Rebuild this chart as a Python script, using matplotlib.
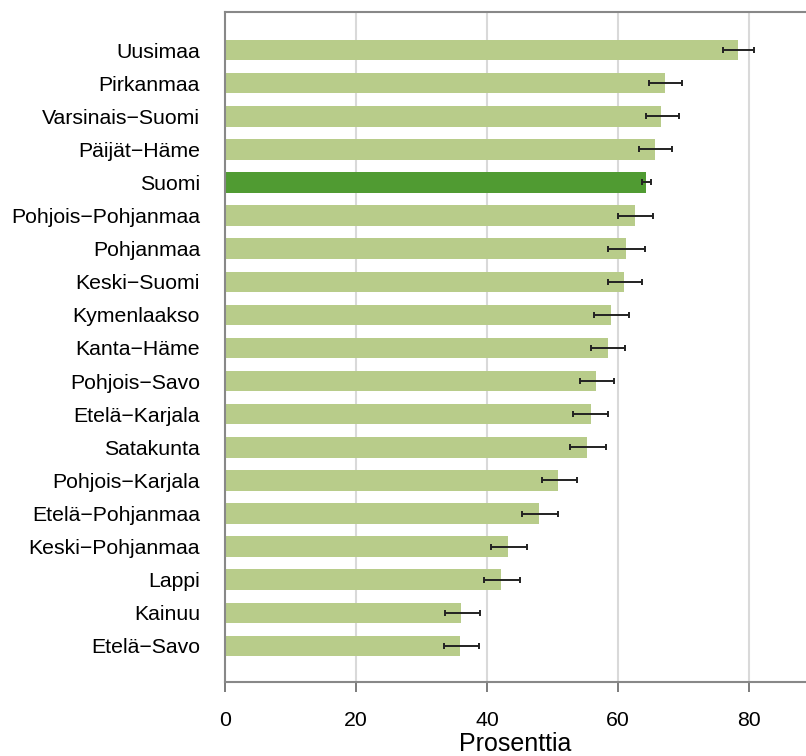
import matplotlib
matplotlib.use("Agg")
import matplotlib.pyplot as plt

plt.rcParams["font.family"] = ["Liberation Sans", "DejaVu Sans"]

# Regions from top to bottom, share (%) with 95% interval limits
regions = ["Uusimaa", "Pirkanmaa", "Varsinais−Suomi", "Päijät−Häme", "Suomi",
           "Pohjois−Pohjanmaa", "Pohjanmaa", "Keski−Suomi", "Kymenlaakso",
           "Kanta−Häme", "Pohjois−Savo", "Etelä−Karjala", "Satakunta",
           "Pohjois−Karjala", "Etelä−Pohjanmaa", "Keski−Pohjanmaa", "Lappi",
           "Kainuu", "Etelä−Savo"]
values = [78.3, 67.1, 66.6, 65.6, 64.2, 62.6, 61.2, 60.9, 58.9, 58.4,
          56.7, 55.8, 55.2, 50.9, 48.0, 43.2, 42.1, 36.1, 35.9]
lower = [76.1, 64.7, 64.2, 63.2, 63.7, 60.0, 58.5, 58.4, 56.3, 55.8,
         54.2, 53.2, 52.6, 48.4, 45.4, 40.6, 39.5, 33.6, 33.4]
upper = [80.7, 69.7, 69.3, 68.2, 65.0, 65.3, 64.1, 63.7, 61.6, 61.0,
         59.4, 58.5, 58.2, 53.7, 50.8, 46.1, 45.0, 38.9, 38.7]
xticks = [0, 20, 40, 60, 80]

n = len(regions)
pos = [n - 1 - i for i in range(n)]
colors = ["#509b32" if r == "Suomi" else "#b8cc8a" for r in regions]
xerr = [[v - lo for v, lo in zip(values, lower)],
        [hi - v for v, hi in zip(values, upper)]]

fig = plt.figure(figsize=(8.06, 7.56), dpi=100)
ax = fig.add_axes([0.2792, 0.0979, 0.7208, 0.8862])

for x in xticks[1:]:
    ax.axvline(x, color="#d9d9d9", lw=1.5, zorder=0)

ax.barh(pos, values, height=0.62, color=colors, zorder=2)
ax.errorbar(values, pos, xerr=xerr, fmt="none", ecolor="#222222",
            elinewidth=1.4, capsize=2.5, capthick=1.4, zorder=3)

ax.set_xlim(0, 88.7)
ax.set_ylim(-1.09, n - 1 + 1.15)
ax.set_yticks(pos)
ax.set_yticklabels(regions, fontsize=15.3)
ax.set_xticks(xticks)
ax.set_xticklabels([str(t) for t in xticks], fontsize=15.3)
ax.tick_params(axis="y", length=0, pad=18)
ax.tick_params(axis="x", length=7, width=1.2, color="#666666", pad=14)
ax.set_xlabel("Prosenttia", fontsize=18, labelpad=1)

for side in ["left", "top", "bottom"]:
    ax.spines[side].set_color("#888888")
    ax.spines[side].set_linewidth(1.5)
ax.spines["right"].set_visible(False)

fig.savefig("out.png", dpi=100)
